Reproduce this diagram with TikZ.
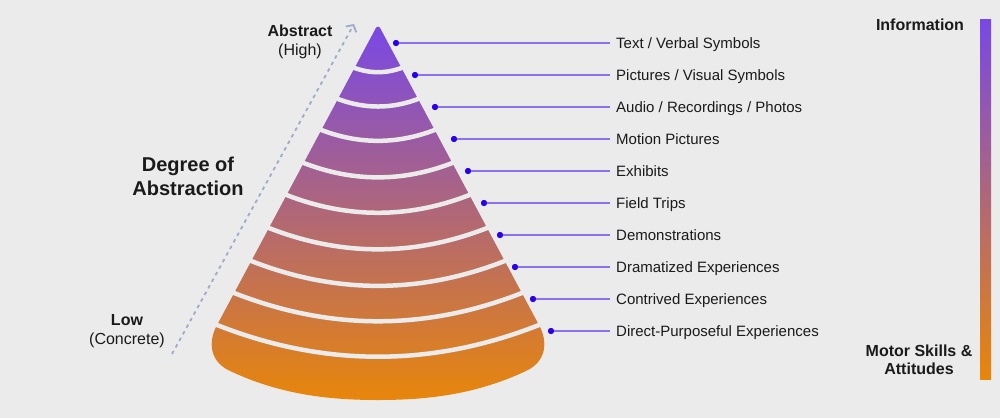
\documentclass[tikz,border=0pt]{standalone}
\usepackage{fontspec}
\setmainfont{Liberation Sans}
\usetikzlibrary{arrows.meta}
\definecolor{bg}{HTML}{EBEBEB}
\definecolor{ctop}{HTML}{7848E6}
\definecolor{cbot}{HTML}{E8860A}
\definecolor{dotc}{HTML}{2A00EE}
\definecolor{linec}{HTML}{8C72EE}
\definecolor{arrc}{HTML}{9DADC8}
\definecolor{txt}{HTML}{1A1A1A}
\tikzset{
  lbl/.style={anchor=west, inner sep=0pt, text height=10.7pt, text depth=0pt, text=txt, font=\fontsize{15}{18}\selectfont},
  pin/.style={circle, fill=dotc, inner sep=0pt, minimum size=6pt},
  conn/.style={draw=linec, line width=2pt},
  sepline/.style={draw=bg, line width=4.5pt},
  boldlbl/.style={align=center, text=txt, inner sep=0pt, font=\fontsize{16}{19}\selectfont},
}
\begin{document}
\begin{tikzpicture}[x=1pt,y=-1pt]
\fill[bg] (0,0) rectangle (1000,418);
\useasboundingbox (0,0) rectangle (1000,418);

% cone
\shade[top color=ctop, bottom color=cbot]
  (216,327) -- (374.3,31) .. controls (376.5,25) and (379.5,25) .. (381.7,31)
  -- (540,327) .. controls (547,341) and (547,360) .. (528,370)
  .. controls (476,395) and (426,400) .. (378,400)
  .. controls (330,400) and (280,395) .. (228,370)
  .. controls (209,360) and (209,341) .. (216,327) -- cycle;

% separators
\foreach \yy in {67,98,129,162,194,227,260,292,324} {
  \pgfmathsetmacro{\h}{0.535*(\yy-24)+3}
  \pgfmathsetmacro{\s}{0.2*\h}
  \draw[sepline] ({378-\h},\yy) .. controls ({378-\h/3},{\yy+4*\s/3}) and ({378+\h/3},{\yy+4*\s/3}) .. ({378+\h},\yy);
}

% right bar
\shade[top color=ctop, bottom color=cbot] (980,19) rectangle (991,379);

% labels
\node[lbl] (l1) at (616,43) {Text / Verbal Symbols};
\node[lbl] (l2) at (616,75) {Pictures / Visual Symbols};
\node[lbl] (l3) at (616,107) {Audio / Recordings / Photos};
\node[lbl] (l4) at (616,139) {Motion Pictures};
\node[lbl] (l5) at (616,171) {Exhibits};
\node[lbl] (l6) at (616,203) {Field Trips};
\node[lbl] (l7) at (616,235) {Demonstrations};
\node[lbl] (l8) at (616,267) {Dramatized Experiences};
\node[lbl] (l9) at (616,299) {Contrived Experiences};
\node[lbl] (l10) at (616,331) {Direct-Purposeful Experiences};

\node[pin] (d1) at (396,43) {};
\node[pin] (d2) at (415,75) {};
\node[pin] (d3) at (435,107) {};
\node[pin] (d4) at (454,139) {};
\node[pin] (d5) at (468,171) {};
\node[pin] (d6) at (484,203) {};
\node[pin] (d7) at (500,235) {};
\node[pin] (d8) at (515,267) {};
\node[pin] (d9) at (533,299) {};
\node[pin] (d10) at (551,331) {};

\foreach \i in {1,...,10} {
  \draw[conn] (d\i.center) -- ([xshift=-6pt]l\i.west);
  \node[pin] at (d\i) {};
}

% left side
\coordinate (alow) at (172,354);
\coordinate (ahigh) at (354,24);
\draw[arrc, line width=1.8pt, dash pattern=on 3.5pt off 4pt,
  -{Straight Barb[length=5pt,width=12pt]}] (alow) -- (ahigh);

\node[boldlbl] (abs) at (300,42) {\textbf{Abstract}\\(High)};
\node[boldlbl, font=\fontsize{20}{24}\selectfont\bfseries] (deg) at (188,176) {Degree of\\Abstraction};
\node[boldlbl] (low) at (127,331) {\textbf{Low}\\(Concrete)};

\node[boldlbl, font=\fontsize{16}{18}\selectfont\bfseries] (info) at (920,25) {Information};
\node[boldlbl, font=\fontsize{16}{18}\selectfont\bfseries] (motor) at (919,360) {Motor Skills \&\\Attitudes};
\end{tikzpicture}
\end{document}
